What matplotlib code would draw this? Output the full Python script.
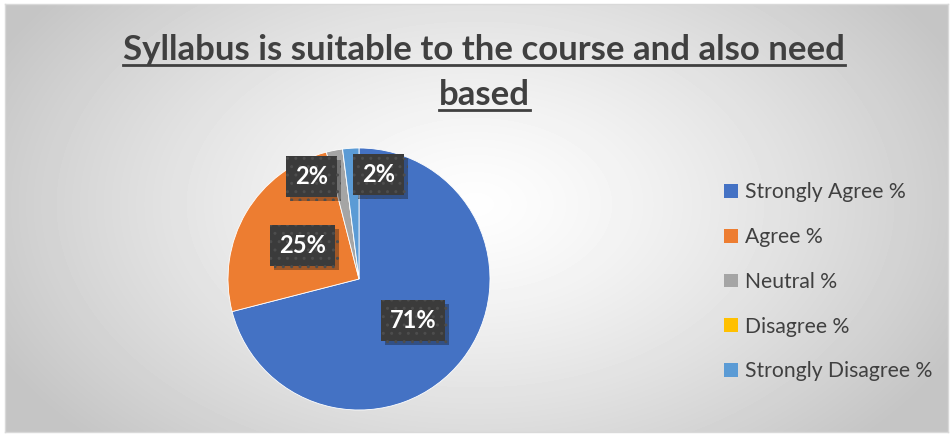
import numpy as np
import matplotlib.pyplot as plt
import matplotlib.patheffects as pe
from matplotlib.patches import Rectangle

# data
categories = ["Strongly Agree %", "Agree %", "Neutral %", "Disagree %", "Strongly Disagree %"]
values = [71, 25, 2, 0, 2]
labels = ["71%", "25%", "2%", "", "2%"]
colors = ["#4472C4", "#ED7D31", "#A5A5A5", "#FFC000", "#5B9BD5"]
title_lines = ["Syllabus is suitable to the course and also need", "based"]

W, H = 952, 437
fig = plt.figure(figsize=(W / 100, H / 100), dpi=100)
fig.patch.set_facecolor("white")

# radial grey background of the chart area
bg = fig.add_axes([5 / W, 1 - 432 / H, 943 / W, 428 / H])
yy, xx = np.mgrid[0:428, 0:943]
d = np.sqrt(((xx - 470) / 600.0) ** 2 + ((yy - 200) / 380.0) ** 2)
shade = np.clip(0.995 - 0.26 * d ** 1.3, 0.77, 0.995)
bg.imshow(shade, cmap="gray", vmin=0, vmax=1, aspect="auto", interpolation="bilinear")
bg.set_xticks([])
bg.set_yticks([])
for s in bg.spines.values():
    s.set_color("#d9d9d9")
    s.set_linewidth(1)

# pie
cx, cy, r = 359, 279, 131
ax = fig.add_axes([(cx - r) / W, (H - cy - r) / H, 2 * r / W, 2 * r / H])
wedges, _ = ax.pie(values, colors=colors, startangle=90, counterclock=False, radius=1,
                   wedgeprops=dict(edgecolor="white", linewidth=0.6))
ax.set_xlim(-1, 1)
ax.set_ylim(-1, 1)
ax.set_aspect("equal")
ax.axis("off")

# data labels (dark dotted boxes with shadow)
lab_r = [0.52, 0.5, 0.8, 0.8, 0.8]
lab_dx = [0, 0, -20, 0, 19]
for w, lab, rr, dx in zip(wedges, labels, lab_r, lab_dx):
    if not lab:
        continue
    ang = np.deg2rad((w.theta1 + w.theta2) / 2)
    t = ax.annotate(lab, (rr * np.cos(ang), rr * np.sin(ang)), xytext=(dx, 0),
                    textcoords="offset points", ha="center", va="center",
                    color="white", fontsize=17, fontweight="bold", family="Lato",
                    bbox=dict(boxstyle="square,pad=0.38", facecolor="#3b3b3b",
                              edgecolor="#4d4d4d", linewidth=0, hatch=".."))
    t.get_bbox_patch().set_path_effects([pe.SimplePatchShadow(offset=(3, -3), alpha=0.35),
                                         pe.Normal()])

# legend
handles = [Rectangle((0, 0), 1, 1, facecolor=c) for c in colors]
fig.legend(handles, categories, loc="upper left", bbox_to_anchor=(716 / W, 1 - 174 / H),
           frameon=False, handlelength=0.62, handleheight=0.62,
           handletextpad=0.35, labelspacing=1.17, borderaxespad=0,
           labelcolor="#404040", prop=dict(family="Lato", size=15.2))

# title with underline
title_y = [1 - 50 / H, 1 - 95 / H]
texts = []
for line, y in zip(title_lines, title_y):
    texts.append(fig.text(484 / W, y, line, ha="center", va="center", fontsize=25,
                          fontweight="bold", family="Lato", color="#404040"))
fig.canvas.draw()
renderer = fig.canvas.get_renderer()
for t in texts:
    bb = t.get_window_extent(renderer)
    uy = bb.y0 + 1
    fig.add_artist(plt.Line2D([bb.x0 / W, bb.x1 / W], [uy / H, uy / H],
                              transform=fig.transFigure, color="#404040", linewidth=2))

fig.savefig("out.png", dpi=100)
